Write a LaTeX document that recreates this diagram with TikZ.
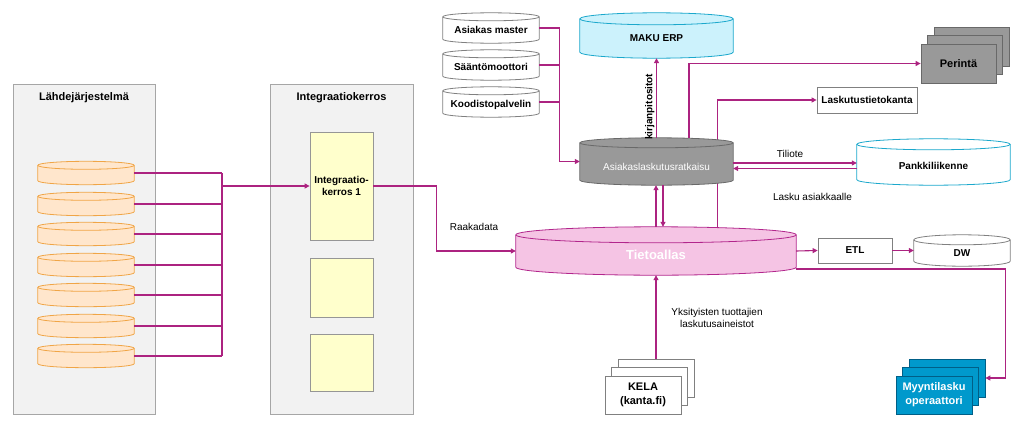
\documentclass[tikz,border=0pt]{standalone}
\usepackage{fontspec}
\setmainfont{Liberation Sans}
\usepackage{tikz}
\usetikzlibrary{arrows.meta,calc,shadows}

\definecolor{linkc}{RGB}{172,35,128}
\definecolor{panelfill}{RGB}{242,242,242}
\definecolor{panelline}{RGB}{166,166,166}
\definecolor{srcfill}{RGB}{255,230,204}
\definecolor{srcline}{RGB}{240,165,70}
\definecolor{intfill}{RGB}{255,255,204}
\definecolor{intline}{RGB}{150,150,150}
\definecolor{boxline}{RGB}{128,128,128}
\definecolor{erpfill}{RGB}{204,242,252}
\definecolor{erpline}{RGB}{27,168,204}
\definecolor{billfill}{RGB}{153,153,153}
\definecolor{billline}{RGB}{105,105,105}
\definecolor{lakefill}{RGB}{245,196,228}
\definecolor{lakeline}{RGB}{178,38,140}
\definecolor{opfill}{RGB}{0,153,204}
\definecolor{opline}{RGB}{0,95,135}

\pgfdeclarelayer{back}
\pgfdeclarelayer{body}
\pgfsetlayers{back,body,main}

% database body behind a node: node, ellipse radius, style
\newcommand{\dbbody}[3]{%
  \begin{pgfonlayer}{body}
    \path[#3] let \p1=(#1.north west), \p2=(#1.south east), \n1={0.5*(\x2-\x1)} in
      (\x1,\y1-#2pt) -- (\x1,\y2+#2pt)
      arc[start angle=180, end angle=360, x radius=\n1, y radius=#2pt]
      -- (\x2,\y1-#2pt)
      arc[start angle=0, end angle=180, x radius=\n1, y radius=#2pt] -- cycle;
    \path[#3, fill=none] let \p1=(#1.north west), \p2=(#1.south east), \n1={0.5*(\x2-\x1)} in
      (\x1,\y1-#2pt) arc[start angle=180, end angle=360, x radius=\n1, y radius=#2pt];
  \end{pgfonlayer}}

\tikzset{
  panel/.style={draw=panelline, fill=panelfill, line width=1pt},
  title/.style={font=\fontsize{11}{13}\selectfont\bfseries},
  lbl/.style={font=\fontsize{10}{12}\selectfont, align=center, inner sep=0pt},
  db/.style={inner sep=0pt, text depth=0pt, text height=#1, font=\fontsize{10}{12}\selectfont\bfseries},
  srcbody/.style={draw=srcline, fill=srcfill, line width=0.8pt},
  whitebody/.style={draw=boxline, fill=white, line width=0.8pt},
  erpbody/.style={draw=erpline, fill=erpfill, line width=0.8pt},
  billbody/.style={draw=billline, fill=billfill, line width=0.8pt},
  bankbody/.style={draw=erpline, fill=white, line width=0.8pt},
  lakebody/.style={draw=lakeline, fill=lakefill, line width=0.8pt},
  intbox/.style={draw=intline, fill=intfill, line width=0.8pt, minimum width=63pt, align=center, font=\fontsize{10}{12}\selectfont\bfseries},
  plainbox/.style={draw=boxline, fill=white, line width=0.8pt, font=\fontsize{10}{12}\selectfont\bfseries},
  stack/.style 2 args={fill=#1, draw=#2, line width=0.8pt, align=center,
    copy shadow={shadow xshift=13pt, shadow yshift=17pt, fill=#1, draw=#2, line width=0.8pt},
    copy shadow={shadow xshift=6.5pt, shadow yshift=8.5pt, fill=#1, draw=#2, line width=0.8pt},
    font=\fontsize{11}{14}\selectfont\bfseries},
  link/.style={draw=linkc, line width=1.1pt},
  linkto/.style={link, -{Triangle[length=5pt, width=5pt]}},
}

\begin{document}
\begin{tikzpicture}[x=1pt, y=-1pt]
    \useasboundingbox (0,0) rectangle (1023,431);

    % Panels
    \begin{pgfonlayer}{back}
        \node[panel, minimum width=142pt, minimum height=330pt] (srcpanel) at (84,249) {};
        \node[panel, minimum width=143pt, minimum height=330pt] (intpanel) at (341.5,249) {};
    \end{pgfonlayer}
    \node[title] (srctitle) at (84,98) {Lähdejärjestelmä};
    \node[title] (inttitle) at (341.5,98) {Integraatiokerros};

    % Source systems
    \coordinate (bus) at (222,186);
    \foreach \i/\y in {1/173,2/204,3/234,4/265,5/295,6/326,7/356} {
        \node[db=0pt, minimum width=96pt, minimum height=23pt] (src\i) at (86,\y) {};
        \dbbody{src\i}{4}{srcbody}
        \draw[link] (src\i.east) -- (src\i.east -| bus);
    }
    \draw[link] (src1.east -| bus) -- (src7.east -| bus);

    % Integration layer
    \node[intbox, minimum height=108pt] (int1) at (341.5,186) {Integraatio-\\kerros 1};
    \node[intbox, minimum height=59pt] (int2) at (341.5,287.5) {};
    \node[intbox, minimum height=57pt] (int3) at (341.5,362.5) {};
    \draw[linkto] (bus) -- (int1);

    % Databases
    \node[db=11pt, minimum width=96pt, minimum height=30pt] (master) at (491,28) {Asiakas master};
    \node[db=11pt, minimum width=96pt, minimum height=30pt] (rules) at (491,65) {Sääntömoottori};
    \node[db=11pt, minimum width=96pt, minimum height=30pt] (codes) at (491,102) {Koodistopalvelin};
    \node[db=12pt, minimum width=153pt, minimum height=45pt] (erp) at (656.5,35.5) {MAKU ERP};
    \node[db=17pt, minimum width=153pt, minimum height=47pt, text=white, font=\fontsize{10}{12}\selectfont] (billing) at (656.5,161.5) {Asiakaslaskutusratkaisu};
    \node[db=15pt, minimum width=153pt, minimum height=46pt] (bank) at (933.5,162) {Pankkiliikenne};
    \node[db=17.3pt, minimum width=280pt, minimum height=48pt, text=white, font=\fontsize{13}{15}\selectfont\bfseries] (lake) at (656,251) {Tietoallas};
    \node[db=11pt, minimum width=96pt, minimum height=31pt] (dw) at (962,250.5) {DW};
    \dbbody{master}{4}{whitebody}
    \dbbody{rules}{4}{whitebody}
    \dbbody{codes}{4}{whitebody}
    \dbbody{erp}{6}{erpbody}
    \dbbody{billing}{5}{billbody}
    \dbbody{bank}{5.5}{bankbody}
    \dbbody{lake}{8}{lakebody}
    \dbbody{dw}{5}{whitebody}

    % Boxes
    \node[plainbox, minimum width=100pt, minimum height=26pt] (ldb) at (867,100) {Laskutustietokanta};
    \node[plainbox, minimum width=74pt, minimum height=25pt] (etl) at (855,250.5) {ETL};
    \node[stack={billfill}{billline}, minimum width=75pt, minimum height=39pt] (perinta) at (958.5,63.5) {Perintä};
    \node[stack={white}{boxline}, minimum width=76pt, minimum height=38pt] (kela) at (643,395) {KELA\\(kanta.fi)};
    \node[stack={opfill}{opline}, minimum width=76pt, minimum height=38pt, text=white] (oper) at (934,395) {Myyntilasku\\operaattori};

    % Labels
    \node[lbl] (rawlbl) at (474,227) {Raakadata};
    \node[lbl] (tilbl) at (790,154) {Tiliote};
    \node[lbl] (invlbl) at (812.5,197) {Lasku asiakkaalle};
    \node[lbl] (privlbl) at (717,318) {Yksityisten tuottajien\\laskutusaineistot};

    % Connectors
    \draw[linkto] (int1.east) -- ++(63,0) |- (lake);
    \draw[linkto] (master.east) -- ++(20,0) |- (billing);
    \draw[link] (rules.east) -- ++(20,0);
    \draw[link] (codes.east) -- ++(20,0);
    \draw[linkto] (billing.north) -- node[lbl, rotate=90, anchor=south, pos=0.39, inner sep=1.5pt, font=\fontsize{10}{12}\selectfont\bfseries] (kplbl) {kirjanpitositot} (erp.south);
    \draw[linkto] ([xshift=32.5pt]billing.north) |- (perinta);
    \begin{pgfonlayer}{back}
        \draw[linkto] ([xshift=61.5pt]lake.north) |- (ldb);
    \end{pgfonlayer}
    \draw[linkto] ([yshift=-1.5pt]billing.east) -- ([yshift=-1.5pt]billing.east -| bank.west);
    \draw[linkto] ([yshift=-6.5pt]bank.west) -- ([yshift=-6.5pt]bank.west -| billing.east);
    \draw[linkto] (lake.north) -- (lake.north |- billing.south);
    \draw[linkto] ([xshift=6.5pt]billing.south) -- ([xshift=6.5pt]billing.south |- lake.north);
    \draw[linkto] ([xshift=13pt, yshift=17pt]kela.north) -- (lake.south);
    \draw[linkto] (lake.east) -- (etl.west);
    \draw[linkto] (etl) -- (dw);
    \draw[linkto] ([yshift=-18pt]lake.east) -- ++(209,0) |- ([xshift=13pt, yshift=17pt]oper.east);
\end{tikzpicture}
\end{document}
